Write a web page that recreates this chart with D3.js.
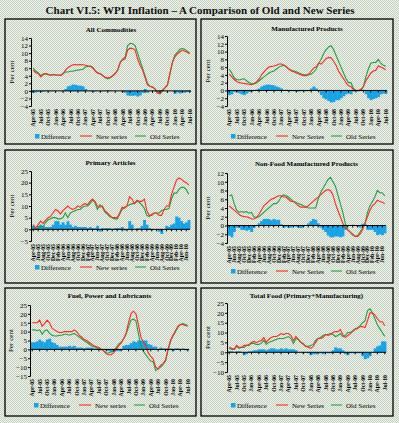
<!DOCTYPE html>
<html>
<head>
<meta charset="utf-8">
<script src="https://cdn.jsdelivr.net/npm/d3@7"></script>
<style>
  body { margin: 0; background: #dde3da; }
  svg { display: block; }
</style>
</head>
<body>
<svg id="chart" width="399" height="423"></svg>
<script>
// months Apr-05 .. Jul-10
var months = [
  'Apr-05','May-05','Jun-05','Jul-05','Aug-05','Sep-05','Oct-05','Nov-05','Dec-05',
  'Jan-06','Feb-06','Mar-06','Apr-06','May-06','Jun-06','Jul-06','Aug-06','Sep-06','Oct-06','Nov-06','Dec-06',
  'Jan-07','Feb-07','Mar-07','Apr-07','May-07','Jun-07','Jul-07','Aug-07','Sep-07','Oct-07','Nov-07','Dec-07',
  'Jan-08','Feb-08','Mar-08','Apr-08','May-08','Jun-08','Jul-08','Aug-08','Sep-08','Oct-08','Nov-08','Dec-08',
  'Jan-09','Feb-09','Mar-09','Apr-09','May-09','Jun-09','Jul-09','Aug-09','Sep-09','Oct-09','Nov-09','Dec-09',
  'Jan-10','Feb-10','Mar-10','Apr-10','May-10','Jun-10','Jul-10'
];
var quarterLabels = months.filter(function (m, i) { return i % 3 === 0; });
var bimonthLabels = months.filter(function (m, i) { return i % 2 === 0; });

// All Commodities
var allNew = [5.5,4.8,4.6,3.7,4.3,4.6,4.4,4.1,4.4, 4.2,4.2,4.1,4.5,5.5,6.2,6.6,6.9,7.0,6.9,7.0,6.9,
  6.8,6.6,6.5,6.0,5.2,4.7,4.5,4.0,3.6,3.4,3.6,4.0, 4.6,5.5,7.5,8.2,8.5,10.8,11.3,11.2,10.8,8.5,6.8,5.5,
  3.5,1.5,1.2,1.0,0.5,-0.6,-0.6,0.2,0.8,1.5,4.5,7.5, 9.0,9.8,10.3,10.8,10.5,10.2,9.8];
var allOld = [6.0,5.2,4.8,4.0,4.5,4.5,4.3,4.2,4.3, 4.2,4.2,4.1,4.6,5.0,5.0,5.2,5.2,5.4,5.5,5.6,5.7,
  6.3,6.5,6.6,6.2,5.3,4.7,4.6,4.1,3.5,3.2,3.5,4.0, 4.6,5.5,7.5,8.5,9.0,12.0,12.6,12.5,12.0,10.0,8.0,6.0,
  4.0,2.0,1.2,1.0,0.6,-0.3,-0.8,0.0,0.8,1.5,4.5,7.5, 9.5,10.2,11.0,11.2,11.0,10.5,10.0];
var allDiff = [-0.5,-0.4,-0.2,-0.3,-0.2,0.1,0.1,-0.1,0.1, 0,0,0,-0.1,0.5,1.2,1.4,1.7,1.6,1.4,1.4,1.2,
  0.5,0.1,-0.1,-0.2,-0.1,0,-0.1,-0.1,0.1,0.2,0.1,0, 0,0,0,-0.3,-0.5,-1.2,-1.3,-1.3,-1.2,-1.5,-1.2,-0.5,
  0.5,-0.5,0,0,-0.1,-0.3,0.2,0.2,0,0,0,0, -0.8,-0.4,-0.7,-0.4,-0.5,-0.3,-0.2];

// Manufactured Products
var mfgNew = [4.3,3.5,2.8,2.3,2.0,1.9,1.8,1.7,1.6, 1.5,1.8,2.2,3.0,4.0,4.8,5.5,6.0,6.2,6.3,6.5,6.8,
  6.8,6.5,6.2,5.5,5.0,4.8,4.5,4.2,4.0,3.8,3.8,4.0, 5.0,5.8,6.0,7.0,6.8,7.5,8.2,8.5,8.4,7.5,6.5,5.0,
  4.0,3.0,2.0,1.2,1.0,0.2,0.0,0.0,0.3,1.0,2.5,3.5, 4.5,5.0,5.2,6.3,6.0,5.7,5.3];
var mfgOld = [5.5,4.5,3.2,2.8,2.7,2.9,3.0,2.5,2.0, 1.8,1.7,2.0,2.5,3.0,3.5,4.0,4.5,4.8,5.0,5.5,6.0,
  6.3,6.5,6.0,5.5,5.2,5.0,4.8,4.5,4.2,4.0,4.0,4.2, 4.2,4.8,5.5,7.0,8.0,9.5,10.5,11.2,11.5,10.5,9.0,7.5,
  6.0,4.5,3.0,2.0,2.0,0.5,0.0,-0.1,0.0,1.0,3.5,5.5, 7.0,7.2,7.2,8.0,7.0,6.5,6.2];
var mfgDiff = [-1.2,-1.0,-0.4,-0.5,-0.7,-1.0,-1.2,-0.8,-0.4, -0.3,0.1,0.2,0.5,1.0,1.3,1.5,1.5,1.4,1.3,1.0,0.8,
  0.5,0,0.2,0,-0.2,-0.2,-0.3,-0.3,-0.2,-0.2,-0.2,-0.2, 0.5,1.0,0.5,0,-1.2,-2.0,-2.3,-2.7,-3.1,-3.0,-2.5,-2.5,
  -2.0,-1.5,-1.0,-0.8,-1.0,-0.3,0,0.1,0.3,0,-1.0,-2.0, -2.5,-2.2,-2.0,-1.7,-1.0,-0.8,-0.9];

// Primary Articles
var priNew = [2,0.5,2,3.5,2.5,4,5,5.5,7, 8.5,8,6.5,8,9,10,9,8.5,9,10,9.5,10.5,
  11,10.5,12,13,12,10,9.5,10,8,7,6,5, 5,5,7,9.5,9,10,14,13,11,12.5,12,12,
  13,8,6,6,7,7,6,6,8.5,10,10,15, 18,21,22,21.5,20.5,20,19];
var priOld = [0.5,0,0.5,1.5,1,3,4,4.5,5, 5,4.5,4.5,5,7,5,7,7.5,8,8.5,8.5,9.5,
  10,10,11,12.5,11.5,8.5,10.5,9.5,7.5,6.5,5.5,5, 4.5,4.5,6.5,8.5,9.5,10,10.5,11,11,12,11.5,10.5,
  9,6,5.5,6.5,7,7,7,8,8.5,8.5,9,13, 15.5,15.5,17,18,18,17,15];
var priDiff = [1.5,0.5,1.5,2,1.5,1,1,1,2, 3.5,3.5,2,3,2,3.5,2,1,1.5,1,1,1,
  1,0.5,1,0.5,0.5,1.5,-1,0.5,0.5,0.5,0.5,0, 0.5,0.5,0.5,1,-0.5,0,3.5,2,0,0.5,0.5,1.5,
  4,2,0.5,-0.5,0,0,-1,-2,0,1.5,1,2, 2.5,5.5,5,3.5,2.5,3,4];

// Non-Food Manufactured Products
var nfNew = [4.5,4,3.5,3,2.5,2.2,2,2,1.8, 1.5,1.5,1.8,2.5,3.5,4.5,5,5.5,6,6.2,6.5,6.8,
  6.8,6.5,6.5,6,5.5,5.5,5,4.5,4.2,4.2,4.2,4.5, 5,5.5,6,6.5,7,7.5,8,8.2,8,7,5,3.5,
  2,0.5,-0.5,-1,-1.5,-2,-2.5,-2.5,-2,-1,0.5,2, 3.5,4.5,5,5.8,5.5,5.3,5];
var nfOld = [6.8,7,5,3.5,3,3.2,3,3.2,2.8, 3,2,1.8,2,2.5,3,3.5,4,4.5,5,5,5.5,
  6.5,7,6.8,6.5,6,5.5,5.3,5,4.8,4.5,4.3,4, 4,4,4,6,7.5,8.5,9.5,10.5,11,10,9,7,
  5,3,0.5,-1,-1.5,-2.2,-2.5,-2.3,-1.5,-0.5,0.5,3, 4.5,5.5,6.5,8,7.5,7.5,6.8];
var nfDiff = [-2.3,-2.7,-1.5,-0.5,-0.5,-1,-1,-1.2,-1, -1.5,-0.5,0,0.5,1,1.5,1.5,1.5,1.2,1.5,1.3,1.3,
  0.3,-0.5,-0.3,-0.5,-0.5,0,-0.3,-0.5,-0.6,-0.3,-0.1,0.5, 1,1.5,1.3,0.5,-0.5,-1,-1.5,-2.3,-2.7,-2.7,-2.5,-2.5,
  -2.7,-2.5,-1,0,0,0.2,0,-0.2,-0.5,0.4,0.3,-1, -1,-1,-1.5,-2.2,-2,-2.2,-1.8];

// Fuel, Power and Lubricants
var fuelNew = [15,15,15,16.5,13,14.5,16.5,15,12, 11,10,9.5,9.5,10,10,10,10,11,10,8,7,
  5.5,5,4,3,2,1.5,1,0,-1,-2.5,-3,-3, -2,0,2,3.5,6,9,15,20,21.5,20,14,7,
  4,2,-2,-4,-5.5,-10,-11,-9,-8,-6,0,5, 8,10.5,13,14,14,13.5,13];
var fuelOld = [11,11,10.5,11,8.5,10.5,11,9,8, 7.5,7.5,8,8,8.5,8.5,8,8.5,9,8,7,6,
  5,4,3,2,1.5,1,0.5,0,-1,-2,-2,-1.5, -1,1,3,4,6,8.5,12.5,16.5,17,16,9,2,
  -1,-3,-5,-6.5,-7,-12,-11,-10,-8.5,-6.5,-0.5,4.5, 7.5,10,12.5,14,14.5,14,13.5];
var fuelDiff = [4,4,4.5,5.5,4.5,4,5.5,6,4, 3.5,2.5,1.5,1.5,1.5,1.5,2,1.5,2,1,1,1,
  0.5,1,1,1,0.5,0.5,0.5,0,0,-0.5,-1,-1.5, -1,-1,-1,-0.5,2,2.5,2.5,3.5,4.5,4,5,5,
  5,5,3,2.5,1.5,1.5,0,1,0.5,0.5,0.5,0.5, -1,0.5,0.5,0,0.5,-0.5,-0.5];

// Total Food (Primary+Manufacturing)
var foodNew = [2.5,2,1.5,3.5,2.5,2.5,3.5,3.5,4, 5,5.5,5,5.5,6,7.5,5,6.5,7.5,8,8,8.5,
  9.5,9,9.5,9.5,8.5,6,8,6.5,5,4,3,2.5, 2,3,5,7,7,7.5,9,8.5,9,10,10.5,10.5,
  11.5,9,7.5,8.5,9.5,10.5,11.5,12,13,13,12.5,16, 20,20,19,17,15.5,15.5,13.5];
var foodOld = [2,1.5,1.5,3,2,2.5,2.5,3.5,3.5, 4.5,4.5,4,4,4.5,6,4,5,5.5,6,6.5,7,
  7,7,7.5,8,7,4.5,7,6.5,5,4.5,3,3, 3.5,4,6,7,7.5,8.5,9,9,9.5,9,8,8.5,
  9.5,8,8.5,10,10,11,12,12.5,13.5,15,16,21, 22,20,17,14,12,10,8];
var foodDiff = [0.5,0.5,0,0.5,0.5,0,-1.5,-1,0.5, 0.5,1,1,1.5,1.5,1.5,1,1.5,2,2,1.5,1.5,
  2,1.5,2,1.5,1.5,1.5,1,0,0,-0.5,0,-0.5, -1.5,-1,-1,0,-0.5,-1,0,-0.5,-0.5,1,2.5,2,
  2,1,-1,-1.5,-0.5,-0.5,-0.5,-0.5,-0.5,-2,-3.5,-3, -2,0,2,3,3.5,5.5,5.5];

var ticks14 = [-4,-2,0,2,4,6,8,10,12,14];
var ticks12 = [-4,-2,0,2,4,6,8,10,12];
var ticks25 = [-5,0,5,10,15,20,25];
var ticksFuel = [-15,-10,-5,0,5,10,15,20,25];
var ticksFood = [-10,-5,0,5,10,15,20,25];

var COL_NEW = '#ff2a1f';
var COL_OLD = '#1fa040';
var COL_DIFF = '#17a3e8';
var SERIF = '"Liberation Serif", "DejaVu Serif", serif';

var svg = d3.select('#chart');

// dithered background
var defs = svg.append('defs');
var pat = defs.append('pattern').attr('id', 'dither')
  .attr('width', 2).attr('height', 2).attr('patternUnits', 'userSpaceOnUse');
pat.append('rect').attr('width', 2).attr('height', 2).attr('fill', '#f1f2ee');
pat.append('rect').attr('width', 1).attr('height', 1).attr('fill', '#c3d2bf');
pat.append('rect').attr('x', 1).attr('y', 1).attr('width', 1).attr('height', 1).attr('fill', '#c3d2bf');

svg.append('rect').attr('width', 399).attr('height', 423).attr('fill', 'url(#dither)');

svg.append('text')
  .attr('x', 200).attr('y', 14)
  .attr('text-anchor', 'middle')
  .style('font-family', SERIF).style('font-weight', 'bold').style('font-size', '11px')
  .style('fill', '#111')
  .text('Chart VI.5: WPI Inflation \u2013 A Comparison of Old and New Series');

var panels = [
  { title: 'All Commodities', newS: allNew, oldS: allOld, diff: allDiff, ticks: ticks14, labels: quarterLabels,
    newName: 'New series', box: [5, 19, 196, 144], axisX: 31, right: 191, yr: [106, 38], titleY: 32, legendY: 139 },
  { title: 'Manufactured Products', newS: mfgNew, oldS: mfgOld, diff: mfgDiff, ticks: ticks14, labels: quarterLabels,
    newName: 'New Series', box: [201, 19, 393, 144], axisX: 227, right: 387, yr: [106, 36], titleY: 31, legendY: 139 },
  { title: 'Primary Articles', newS: priNew, oldS: priOld, diff: priDiff, ticks: ticks25, labels: bimonthLabels,
    newName: 'New series', box: [5, 150, 196, 283], axisX: 31, right: 190, yr: [241, 171], titleY: 165, legendY: 270 },
  { title: 'Non-Food Manufactured Products', newS: nfNew, oldS: nfOld, diff: nfDiff, ticks: ticks12, labels: bimonthLabels,
    newName: 'New Series', box: [201, 150, 393, 283], axisX: 227, right: 386, yr: [243, 173], titleY: 166, legendY: 274 },
  { title: 'Fuel, Power and Lubricants', newS: fuelNew, oldS: fuelOld, diff: fuelDiff, ticks: ticksFuel, labels: quarterLabels,
    newName: 'New series', box: [5, 288, 196, 416], axisX: 30, right: 189, yr: [376, 305], titleY: 298, legendY: 408 },
  { title: 'Total Food (Primary+Manufacturing)', newS: foodNew, oldS: foodOld, diff: foodDiff, ticks: ticksFood, labels: quarterLabels,
    newName: 'New Series', box: [201, 288, 393, 416], axisX: 227, right: 386, yr: [372, 303], titleY: 298, legendY: 408 }
];

panels.forEach(function (p) {
  var b = p.box;
  var g = svg.append('g');

  g.append('rect')
    .attr('x', b[0]).attr('y', b[1])
    .attr('width', b[2] - b[0]).attr('height', b[3] - b[1])
    .attr('fill', 'none').attr('stroke', '#000').attr('stroke-width', 1.3);

  g.append('text')
    .attr('x', (p.axisX + p.right) / 2).attr('y', p.titleY)
    .attr('text-anchor', 'middle')
    .style('font-family', SERIF).style('font-weight', 'bold').style('font-size', '7px')
    .text(p.title);

  var x = d3.scaleBand().domain(months).range([p.axisX + 1, p.right]).padding(0);
  var y = d3.scaleLinear().domain([p.ticks[0], p.ticks[p.ticks.length - 1]]).range(p.yr);
  var cx = function (m) { return x(m) + x.bandwidth() / 2; };

  // difference area bars
  g.append('g').selectAll('rect')
    .data(p.diff)
    .join('rect')
    .attr('x', function (d, i) { return x(months[i]); })
    .attr('width', x.bandwidth() + 0.4)
    .attr('y', function (d) { return Math.min(y(d), y(0)); })
    .attr('height', function (d) { return Math.abs(y(d) - y(0)); })
    .attr('fill', COL_DIFF);

  var line = d3.line()
    .x(function (d, i) { return cx(months[i]); })
    .y(function (d) { return y(d); });

  g.append('path').datum(p.oldS)
    .attr('d', line).attr('fill', 'none')
    .attr('stroke', COL_OLD).attr('stroke-width', 1.1);
  g.append('path').datum(p.newS)
    .attr('d', line).attr('fill', 'none')
    .attr('stroke', COL_NEW).attr('stroke-width', 1.1);

  // y axis
  var ya = g.append('g')
    .attr('transform', 'translate(' + p.axisX + ',0)')
    .call(d3.axisLeft(y).tickValues(p.ticks).tickSize(2).tickPadding(1));
  ya.selectAll('text').style('font-family', SERIF).style('font-size', '7px').style('fill', '#000');
  ya.select('.domain').attr('stroke', '#000');

  // zero line with ticks
  var xa = g.append('g')
    .attr('transform', 'translate(0,' + y(0) + ')')
    .call(d3.axisBottom(x).tickValues(p.labels).tickSize(2).tickFormat(''));
  xa.select('.domain').attr('d', 'M' + p.axisX + ',0H' + p.right).attr('stroke', '#000');

  // month labels below the plot
  g.append('g').selectAll('text')
    .data(p.labels)
    .join('text')
    .attr('transform', function (m) {
      return 'translate(' + (cx(m) + 2) + ',' + (p.yr[0] + 3) + ') rotate(-90)';
    })
    .attr('text-anchor', 'end')
    .style('font-family', SERIF).style('font-size', '5.8px').style('font-weight', 'bold')
    .text(function (m) { return m; });

  g.append('text')
    .attr('transform', 'translate(' + (p.axisX - 17) + ',' + ((p.yr[0] + p.yr[1]) / 2) + ') rotate(-90)')
    .attr('text-anchor', 'middle')
    .style('font-family', SERIF).style('font-size', '7px')
    .text('Per cent');

  // legend
  var ly = p.legendY;
  var lx = p.axisX;
  g.append('rect').attr('x', lx + 4).attr('y', ly - 5).attr('width', 4.5).attr('height', 4.5).attr('fill', COL_DIFF);
  g.append('text').attr('x', lx + 10).attr('y', ly)
    .style('font-family', SERIF).style('font-size', '7px').text('Difference');
  g.append('line').attr('x1', lx + 49).attr('x2', lx + 61).attr('y1', ly - 3).attr('y2', ly - 3)
    .attr('stroke', COL_NEW).attr('stroke-width', 1.1);
  g.append('text').attr('x', lx + 65).attr('y', ly)
    .style('font-family', SERIF).style('font-size', '7px').text(p.newName);
  g.append('line').attr('x1', lx + 104).attr('x2', lx + 115).attr('y1', ly - 3).attr('y2', ly - 3)
    .attr('stroke', COL_OLD).attr('stroke-width', 1.1);
  g.append('text').attr('x', lx + 119).attr('y', ly)
    .style('font-family', SERIF).style('font-size', '7px').text('Old Series');
});
</script>
</body>
</html>
